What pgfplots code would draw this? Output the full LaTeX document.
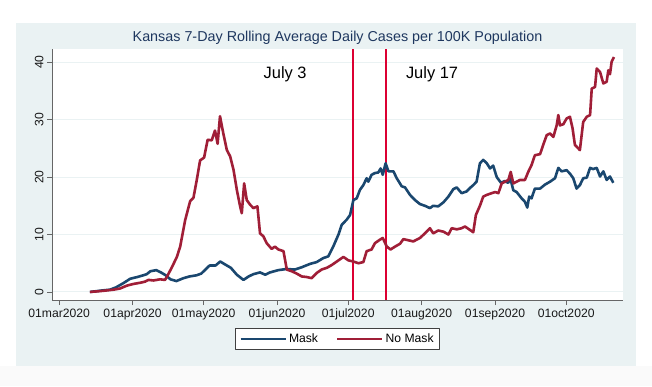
\documentclass[border=0pt]{standalone}
\usepackage{fontspec}
\setmainfont{Liberation Sans}
\usepackage{pgfplots}
\pgfplotsset{compat=1.18}
\definecolor{panel}{RGB}{234,242,243}
\definecolor{maskc}{RGB}{26,71,111}
\definecolor{nomaskc}{RGB}{160,30,55}
\definecolor{vlinec}{RGB}{220,0,50}
\definecolor{titlec}{RGB}{30,55,95}
\definecolor{gridc}{RGB}{234,242,243}
\begin{document}
\begin{tikzpicture}[x=1bp,y=1bp]
\useasboundingbox (0,0) rectangle (652,386);
\fill[white] (0,0) rectangle (652,386);
\fill[black!2] (0,0) rectangle (652,20);
\fill[panel] (16,20) rectangle (636,363);
\node[text=titlec, font=\fontsize{14.4}{16}\selectfont] at (337.5,348) {Kansas 7-Day Rolling Average Daily Cases per 100K Population};
\begin{axis}[
  at={(52bp,86bp)}, anchor=south west,
  scale only axis, width=571bp, height=251bp,
  xmin=-3, xmax=238, ymin=-1.4, ymax=42.3,
  axis background/.style={fill=white},
  axis x line*=bottom, axis y line*=left,
  axis line style={black!60, line width=0.8bp, -},
  tick style={black!60, line width=0.8bp},
  tick align=outside, major tick length=5bp,
  xtick={0,31,61,92,122,153,184,214},
  xticklabels={01mar2020,01apr2020,01may2020,01jun2020,01jul2020,01aug2020,01sep2020,01oct2020},
  ytick={0,10,20,30,40},
  ymajorgrids, grid style={gridc, line width=1bp},
  /pgf/number format/assume math mode=true,
  ticklabel style={font=\fontsize{12.2}{14}\selectfont, text=black!90},
  yticklabel style={rotate=90, anchor=south},
  legend style={at={(0.5,-0.155)}, anchor=center, legend columns=2,
    draw=black!75, line width=0.6bp, fill=white,
    font=\fontsize{12.2}{14}\selectfont, inner xsep=4bp, inner ysep=3bp},
  legend image code/.code={\draw[#1] (0bp,0bp) -- (45bp,0bp);},
  /tikz/every even column/.append style={column sep=16bp},
  line join=round,
]
\addplot[vlinec, line width=2.8bp, forget plot] coordinates {(124,-1.4) (124,42.3)};
\addplot[vlinec, line width=2.8bp, forget plot] coordinates {(138,-1.4) (138,42.3)};
\addplot[maskc, line width=2.6bp] coordinates {
(13,0) (15,0.1) (17,0.2) (19,0.3) (21.5,0.4) (24,0.8) (27,1.5) (30,2.3) (33,2.6) (35.5,2.9)
(37,3.1) (38.5,3.6) (41,3.8) (43,3.4) (45,2.9) (47,2.2) (49.5,1.9) (52.5,2.4) (55,2.7) (58,2.9)
(60,3.2) (61.5,3.8) (63.5,4.6) (66,4.6) (68,5.3) (70,4.8) (72.5,4.2) (75,3.0) (77.8,2.1) (80,2.7)
(82,3.1) (84.8,3.4) (87,3.0) (89,3.4) (92.5,3.8) (96,4.0) (99.5,3.9) (102.4,4.3) (106,4.9) (108.7,5.2)
(111.5,5.9) (113.6,6.2) (115.7,7.9) (117.9,10.0) (119.3,11.7) (121.4,12.6) (122.8,13.4) (124.2,16.0) (125.6,16.3) (127,17.8)
(128.4,18.6) (129.8,19.8) (130.5,19.2) (131.9,20.4) (133.3,20.7) (134.7,20.8) (135.7,21.5) (136.6,20.4) (137.8,22.4) (139,21.0)
(141.1,21.0) (142.5,19.8) (144.6,18.4) (146,18.2) (148.1,16.9) (150.2,16.0) (152.3,15.3) (154.4,15.0) (156.5,14.6) (157.9,15.0)
(160,14.9) (162.2,15.6) (164.3,16.6) (166.4,17.9) (167.8,18.2) (169.9,17.2) (172,17.5) (173.4,18.1) (174.8,18.6) (176.2,19.2)
(177.6,22.4) (179,23.0) (180.5,22.4) (181.9,21.5) (183.2,22.0) (184.7,20.0) (186.5,19.0) (188,19.3) (189.5,19.0) (190.5,19.7)
(191.7,17.7) (193.1,17.4) (195.2,16.3) (196.6,15.7) (197.6,14.7) (198.4,16.6) (199.4,16.3) (200.8,18.0) (203,18.0) (205.1,18.7)
(207.2,19.2) (209.3,19.8) (210.7,21.6) (212.1,21.0) (214.2,21.2) (215.6,20.6) (217,19.8) (218.4,18.0) (219.8,18.6) (221.2,19.8)
(222.7,19.9) (224.1,21.6) (225.4,21.4) (226.9,21.6) (228.3,20.1) (229.7,21.0) (231.1,19.5) (232.5,20.1) (233.9,19.0)
};
\addlegendentry{Mask}
\addplot[nomaskc, line width=2.6bp] coordinates {
(13,0) (16,0.1) (18.7,0.2) (23,0.4) (25.7,0.6) (28.6,1.1) (31.4,1.4) (34.2,1.6) (36.3,1.8) (37.7,2.1)
(39.8,2.0) (42.6,2.2) (44.7,2.1) (45.7,2.8) (47.6,4.3) (49.7,6.1) (51.1,7.9) (53.2,12.5) (55.3,15.8) (56.7,16.4)
(58.1,19.5) (59.5,22.9) (61.2,23.4) (62.7,26.5) (64.4,26.4) (65.8,28.1) (66.9,25.8) (67.9,30.6) (69.3,27.6) (70.8,24.7)
(72.2,23.6) (73.6,21.3) (75,17.8) (76.4,14.9) (77.1,13.7) (78.1,18.9) (79.2,16.0) (80.6,15.2) (82,14.6) (83.7,14.9)
(84.8,10.2) (86.2,9.7) (87.6,8.5) (89.7,7.5) (91.1,7.9) (92.5,7.4) (94.7,7.1) (96.1,3.9) (98.2,3.6) (100.3,3.2)
(102.4,2.7) (104.5,2.6) (106.6,2.4) (108.7,3.3) (110.8,3.9) (113,4.2) (115.1,4.7) (117.2,5.3) (120,6.1) (122.1,5.5)
(124.2,5.3) (126.3,5.0) (128.4,5.2) (129.8,7.1) (131.9,7.4) (133.3,8.5) (135.4,9.1) (136.6,9.4) (138.3,7.9) (139.9,7.4)
(141.8,7.9) (143.9,8.4) (145.3,9.2) (147.4,9.0) (149.5,8.8) (150.9,9.1) (152.3,9.4) (154.4,10.2) (156.5,11.1) (157.9,10.2)
(160,10.7) (162.2,10.5) (164.3,10.0) (165.7,11.1) (167.8,10.9) (169.9,11.1) (171.3,11.4) (173.4,10.8) (174.8,10.4) (175.9,13.4)
(177.6,15.0) (179,16.6) (180.5,16.9) (182.6,17.2) (184,17.4) (185.4,17.2) (186.8,18.9) (188.2,19.2) (189.6,19.5) (190.6,20.9)
(191.7,18.9) (193.1,19.2) (194.5,19.5) (196.6,19.5) (198,20.9) (199.4,22.1) (200.8,23.8) (203,24.0) (204.3,25.6) (205.8,27.3)
(207.2,27.6) (208.6,27.0) (210,29.0) (210.7,30.8) (211.4,29.0) (212.8,29.2) (214.2,30.2) (215.6,30.5) (216.7,28.5) (217.7,25.6)
(219.1,25.0) (219.8,24.7) (221.2,29.6) (222.7,30.5) (224.1,30.8) (224.8,35.4) (226.2,35.7) (226.9,38.9) (228.3,38.3) (229.7,36.3)
(231.1,36.6) (231.8,38.6) (232.5,37.9) (233.2,40.1) (234.2,40.9)
};
\addlegendentry{No Mask}
\node[font=\fontsize{16.5}{18}\selectfont] at (axis cs:95.4,37.9) {July 3};
\node[font=\fontsize{16.5}{18}\selectfont] at (axis cs:157.4,37.9) {July 17};
\end{axis}
\end{tikzpicture}
\end{document}
